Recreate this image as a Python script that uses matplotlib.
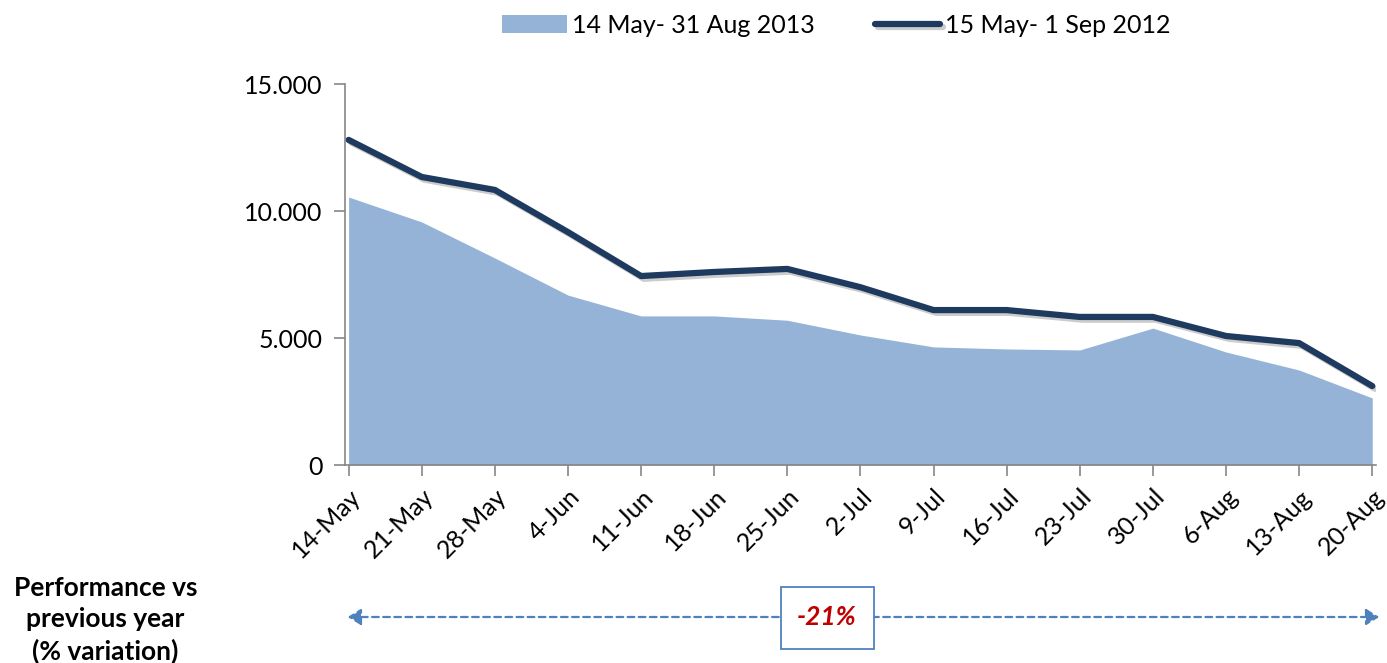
import matplotlib
matplotlib.use("Agg")
import matplotlib.pyplot as plt
import matplotlib.patheffects as pe
from matplotlib.ticker import FuncFormatter

plt.rcParams['font.family'] = ['Lato', 'DejaVu Sans']

weeks = ["14-May", "21-May", "28-May", "4-Jun", "11-Jun", "18-Jun", "25-Jun", "2-Jul",
         "9-Jul", "16-Jul", "23-Jul", "30-Jul", "6-Aug", "13-Aug", "20-Aug"]
y2013 = [10550, 9570, 8150, 6690, 5870, 5870, 5700, 5120,
         4650, 4570, 4530, 5390, 4450, 3740, 2640]
y2012 = [12800, 11340, 10830, 9170, 7440, 7600, 7720, 7000,
         6100, 6100, 5830, 5830, 5080, 4800, 3110]
label_2013 = "14 May- 31 Aug 2013"
label_2012 = "15 May- 1 Sep 2012"
variation = "-21%"

fig = plt.figure(figsize=(13.87, 6.63), dpi=100)
ax = fig.add_axes([0.2487, 0.2986, 0.7433, 0.5747])

x = list(range(len(weeks)))
ax.fill_between(x, 0, y2013, color="#95b3d7", lw=0, label=label_2013)
ax.plot(x, y2012, color="#1f3a5f", lw=4.5, solid_capstyle="round", label=label_2012,
        path_effects=[pe.SimpleLineShadow(offset=(2, -2), alpha=0.2), pe.Normal()])

ax.set_xlim(-0.05, len(weeks) - 1 + 0.05)
ax.set_ylim(0, 15000)
ax.set_yticks([0, 5000, 10000, 15000])
ax.yaxis.set_major_formatter(FuncFormatter(lambda v, p: "0" if v == 0 else f"{int(v):,}".replace(",", ".")))
ax.set_xticks(x)
ax.set_xticklabels(weeks, rotation=45, ha="right", rotation_mode="anchor")
ax.tick_params(axis="both", labelsize=18, color="#868686", length=8, width=1.2, direction="out")
ax.tick_params(axis="x", pad=6)
ax.tick_params(axis="y", pad=8)
for s in ["top", "right"]:
    ax.spines[s].set_visible(False)
for s in ["left", "bottom"]:
    ax.spines[s].set_color("#868686")
    ax.spines[s].set_linewidth(1.2)

fig.legend(loc="center", bbox_to_anchor=(0.603, 0.962), ncol=2, frameon=False,
           fontsize=18, handlelength=2.6, columnspacing=2.4, handletextpad=0.2)

# bottom annotation
fig.text(0.076, 0.065, "Performance vs\nprevious year\n(% variation)", ha="center", va="center",
         fontsize=19, fontweight="bold", linespacing=1.35)
arrow_y = 1 - 617 / 663
fig.patches.append(matplotlib.patches.FancyArrowPatch(
    (345 / 1387, arrow_y), (1382 / 1387, arrow_y), transform=fig.transFigure,
    arrowstyle="<|-|>,head_length=8,head_width=5", linestyle=(0, (3, 2)),
    color="#4f81bd", lw=1.6, mutation_scale=1))
fig.patches.append(matplotlib.patches.Rectangle(
    (781 / 1387, 1 - 649 / 663), 93 / 1387, 62 / 663, transform=fig.transFigure,
    fc="white", ec="#4f81bd", lw=1.3, zorder=2))
fig.text(827 / 1387, arrow_y, variation, ha="center", va="center", fontsize=19,
         fontweight="bold", fontstyle="italic", color="#c00000", zorder=3)

fig.savefig("out.png", dpi=100)
